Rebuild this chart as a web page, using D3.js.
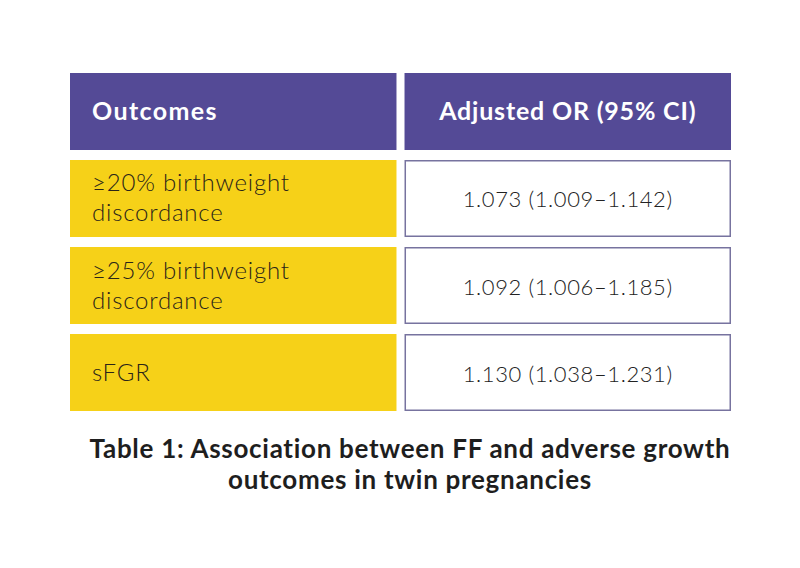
<!DOCTYPE html>
<html>
<head>
<meta charset="utf-8">
<script src="https://cdn.jsdelivr.net/npm/d3@7"></script>
<style>
  body { margin: 0; background: #fff; }
  svg { display: block; }
</style>
</head>
<body>
<div id="table_chart"></div>
<script>
// Table content
const headers = ["Outcomes", "Adjusted OR (95% CI)"];
const outcomes = [["≥20% birthweight", "discordance"], ["≥25% birthweight", "discordance"], ["sFGR"]];
const oddsRatios = ["1.073", "1.092", "1.130"];
const ciLower = ["1.009", "1.006", "1.038"];
const ciUpper = ["1.142", "1.185", "1.231"];
const captionLines = ["Table 1: Association between FF and adverse growth", "outcomes in twin pregnancies"];

const width = 800, height = 568;
const purple = "#544a96", yellow = "#f6d118", border = "#77739f";

const svg = d3.select("#table_chart")
    .append("svg")
    .attr("width", width)
    .attr("height", height);

// Columns and rows as band scales
const x = d3.scaleBand()
    .domain([0, 1])
    .range([70, 731])
    .paddingInner(0.024);

const rowKeys = ["header"].concat(outcomes.map((d, i) => "r" + i));
const y = d3.scaleBand()
    .domain(rowKeys)
    .range([73, 411])
    .paddingInner(0.115);

// Header cells
const head = svg.selectAll(".head")
    .data(headers)
    .enter()
    .append("g")
    .attr("class", "head");

head.append("rect")
    .attr("x", (d, i) => x(i))
    .attr("y", y("header"))
    .attr("width", x.bandwidth())
    .attr("height", y.bandwidth())
    .style("fill", purple);

head.append("text")
    .attr("x", (d, i) => i === 0 ? x(0) + 22 : x(1) + x.bandwidth() / 2)
    .attr("y", y("header") + y.bandwidth() / 2 + 9)
    .attr("text-anchor", (d, i) => i === 0 ? "start" : "middle")
    .style("font-family", "Lato, sans-serif")
    .style("font-weight", 700)
    .style("font-size", "25px")
    .style("letter-spacing", (d, i) => i === 0 ? "1.4px" : "0.8px")
    .style("fill", "#fff")
    .text(d => d);

// Body rows
const rows = svg.selectAll(".row")
    .data(outcomes.map((d, i) => ({ key: "r" + i, lines: d, or: oddsRatios[i], lo: ciLower[i], hi: ciUpper[i] })))
    .enter()
    .append("g")
    .attr("class", "row");

rows.append("rect")
    .attr("x", x(0))
    .attr("y", d => y(d.key))
    .attr("width", x.bandwidth())
    .attr("height", y.bandwidth())
    .style("fill", yellow);

rows.append("rect")
    .attr("x", x(1) + 0.75)
    .attr("y", d => y(d.key) + 0.75)
    .attr("width", x.bandwidth() - 1.5)
    .attr("height", y.bandwidth() - 1.5)
    .style("fill", "#fff")
    .style("stroke", border)
    .style("stroke-width", 1.5);

rows.append("text")
    .attr("x", x(0) + 22)
    .attr("y", d => y(d.key) + y.bandwidth() / 2 + 8 - (d.lines.length - 1) * 15)
    .style("font-family", "Lato, sans-serif")
    .style("font-weight", 300)
    .style("font-size", "24px")
    .style("letter-spacing", "0.8px")
    .style("fill", "#2a2418")
    .selectAll("tspan")
    .data(d => d.lines)
    .enter()
    .append("tspan")
    .attr("x", x(0) + 22)
    .attr("dy", (d, i) => i === 0 ? 0 : 30)
    .text(d => d);

rows.append("text")
    .attr("x", x(1) + x.bandwidth() / 2)
    .attr("y", d => y(d.key) + y.bandwidth() / 2 + 9)
    .attr("text-anchor", "middle")
    .style("font-family", "Lato, sans-serif")
    .style("font-weight", 300)
    .style("font-size", "22px")
    .style("letter-spacing", "0.6px")
    .style("fill", "#222")
    .text(d => `${d.or} (${d.lo}–${d.hi})`);

// Caption
svg.append("text")
    .attr("x", 410)
    .attr("y", 458)
    .attr("text-anchor", "middle")
    .style("font-family", "Lato, sans-serif")
    .style("font-weight", 700)
    .style("font-size", "26px")
    .style("letter-spacing", "0.7px")
    .style("fill", "#1e1e1e")
    .selectAll("tspan")
    .data(captionLines)
    .enter()
    .append("tspan")
    .attr("x", 410)
    .attr("dy", (d, i) => i === 0 ? 0 : 31)
    .text(d => d);
</script>
</body>
</html>
